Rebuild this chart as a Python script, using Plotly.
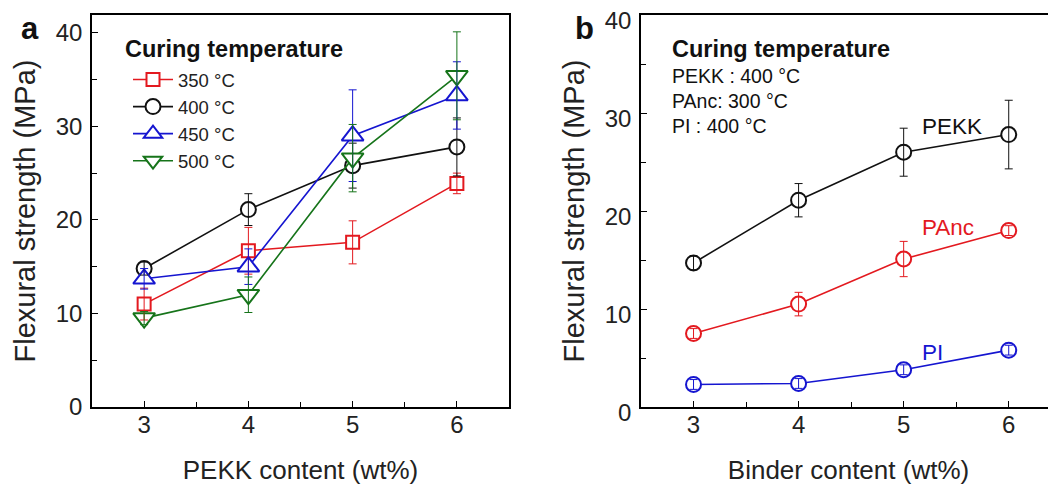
import plotly.graph_objects as go

# page body has an 8px margin: build the figure 8px smaller and map
# reference pixel positions into figure fractions
OX, OY = 8, 8
FW, FH = 1048, 478


def px(X):
    return (X - OX) / FW


def py(Y):
    return 1 - (Y - OY) / FH


# ---------------- data ----------------
x_content = [3, 4, 5, 6]

# panel a : curing temperature series (PEKK content)
temp_labels = ["350 °C", "400 °C", "450 °C", "500 °C"]
a_350 = [11.0, 16.7, 17.6, 23.9]
a_350_err = [1.7, 2.5, 2.3, 1.1]
a_400 = [14.8, 21.1, 25.8, 27.8]
a_400_err = [0.7, 1.7, 2.4, 3.1]
a_450 = [13.7, 15.0, 29.0, 33.3]
a_450_err = [1.1, 1.9, 4.9, 3.6]
a_500 = [9.5, 12.0, 26.6, 35.4]
a_500_err = [0.7, 1.9, 3.6, 4.7]

# panel b : binder series
binder_labels = ["PEKK", "PAnc", "PI"]
b_pekk = [14.7, 21.1, 26.0, 27.8]
b_pekk_err = [0.7, 1.7, 2.45, 3.5]
b_panc = [7.5, 10.5, 15.1, 18.0]
b_panc_err = [0.5, 1.2, 1.8, 0.5]
b_pi = [2.3, 2.4, 3.8, 5.8]
b_pi_err = [0.5, 0.5, 0.5, 0.5]

y_ticks = [0, 10, 20, 30, 40]
x_ticks = [3, 4, 5, 6]

# ---------------- styles ----------------
RED = "#e3191f"
BLACK = "#111111"
BLUE = "#1515d0"
GREEN = "#16741a"
FONT = "Liberation Sans, Arial, sans-serif"

fig = go.Figure()

series_a = [
    (temp_labels[0], a_350, a_350_err, RED, "square", 13),
    (temp_labels[1], a_400, a_400_err, BLACK, "circle", 15),
    (temp_labels[2], a_450, a_450_err, BLUE, "triangle-up", 19),
    (temp_labels[3], a_500, a_500_err, GREEN, "triangle-down", 19),
]
for name, ys, es, col, sym, sz in series_a:
    fig.add_trace(go.Scatter(
        x=x_content, y=ys, name=name, mode="lines+markers",
        line=dict(color=col, width=1.6),
        marker=dict(symbol=sym, size=sz, color="white",
                    line=dict(color=col, width=2)),
        xaxis="x", yaxis="y", showlegend=True,
    ))
for name, ys, es, col, sym, sz in series_a:
    fig.add_trace(go.Scatter(
        x=x_content, y=ys, mode="markers",
        marker=dict(size=0.1, color="rgba(0,0,0,0)"),
        error_y=dict(type="data", array=es, visible=True, color=col,
                     thickness=1, width=4),
        xaxis="x", yaxis="y", showlegend=False, hoverinfo="skip",
    ))

series_b = [
    (binder_labels[0], b_pekk, b_pekk_err, BLACK),
    (binder_labels[1], b_panc, b_panc_err, RED),
    (binder_labels[2], b_pi, b_pi_err, BLUE),
]
for name, ys, es, col in series_b:
    fig.add_trace(go.Scatter(
        x=x_content, y=ys, name=name, mode="lines+markers",
        line=dict(color=col, width=1.6),
        marker=dict(symbol="circle", size=15, color="white",
                    line=dict(color=col, width=2)),
        xaxis="x2", yaxis="y2", showlegend=False,
    ))
for name, ys, es, col in series_b:
    fig.add_trace(go.Scatter(
        x=x_content, y=ys, mode="markers",
        marker=dict(size=0.1, color="rgba(0,0,0,0)"),
        error_y=dict(type="data", array=es, visible=True, color=col,
                     thickness=1, width=4),
        xaxis="x2", yaxis="y2", showlegend=False, hoverinfo="skip",
    ))

ydom = [py(407), py(15)]
axis_common = dict(
    showline=True, linecolor="black", linewidth=1.6, mirror=True,
    ticks="inside", ticklen=6, tickwidth=1.4, tickcolor="black",
    showgrid=False, zeroline=False, automargin=False,
    ticklabeloverflow="allow",
    tickfont=dict(family=FONT, size=24, color="#222"),
)
minor_x = dict(dtick=0.5, tick0=2.5, ticks="inside", ticklen=5,
               tickwidth=1.2, tickcolor="black", showgrid=False)
minor_y = dict(dtick=5, tick0=0, ticks="inside", ticklen=5,
               tickwidth=1.2, tickcolor="black", showgrid=False)
xtitle_font = dict(family=FONT, size=26, color="#222")
ytitle_font = dict(family=FONT, size=29, color="#222")

fig.update_layout(
    width=FW, height=FH,
    margin=dict(l=0, r=0, t=0, b=0, autoexpand=False),
    paper_bgcolor="white", plot_bgcolor="white",
    font=dict(family=FONT, color="#222"),
    xaxis=dict(axis_common, domain=[px(92), px(509)], range=[2.5, 6.5],
               tickvals=x_ticks, ticklabelstandoff=-5, minor=minor_x,
               title=dict(text="PEKK content (wt%)", standoff=24,
                          font=xtitle_font)),
    yaxis=dict(axis_common, domain=ydom, range=[0, 41.9],
               tickvals=y_ticks, ticklabelstandoff=3, minor=minor_y,
               title=dict(text="Flexural strength (MPa)", standoff=12,
                          font=ytitle_font)),
    xaxis2=dict(axis_common, domain=[px(641), 1.0], range=[2.5, 6.45],
                anchor="y2", tickvals=x_ticks, ticklabelstandoff=-5,
                minor=minor_x,
                title=dict(text="Binder content (wt%)", standoff=24,
                           font=xtitle_font)),
    yaxis2=dict(axis_common, domain=ydom, range=[0, 40], anchor="x2",
                mirror=False, tickvals=y_ticks, ticklabelstandoff=3,
                ticklabelshift=6, minor=minor_y,
                title=dict(text="Flexural strength (MPa)", standoff=12,
                           font=ytitle_font)),
    legend=dict(
        x=px(128), y=py(61), xanchor="left", yanchor="top",
        bgcolor="rgba(0,0,0,0)", borderwidth=0,
        font=dict(family=FONT, size=18.5, color="#222"),
        tracegroupgap=0, itemwidth=40,
    ),
    showlegend=True,
)

# panel letters
for t, X in (("<b>a</b>", 30), ("<b>b</b>", 584)):
    fig.add_annotation(text=t, x=px(X), y=py(28), xref="paper",
                       yref="paper", showarrow=False, xanchor="center",
                       yanchor="middle",
                       font=dict(family=FONT, size=31, color="#111"))

# legend heading of panel a
fig.add_annotation(text="<b>Curing temperature</b>", x=px(123), y=py(49),
                   xref="paper", yref="paper", showarrow=False,
                   xanchor="left", yanchor="middle",
                   font=dict(family=FONT, size=23.5, color="#111"))

# information block of panel b
info_lines = ["<b>Curing temperature</b>", "PEKK : 400 °C", "PAnc: 300 °C",
              "PI : 400 °C"]
info_y = [49, 76, 101, 126]
info_size = [23.5, 19.5, 19.5, 19.5]
for t, yy, s in zip(info_lines, info_y, info_size):
    fig.add_annotation(text=t, x=px(670), y=py(yy), xref="paper",
                       yref="paper", showarrow=False, xanchor="left",
                       yanchor="middle",
                       font=dict(family=FONT, size=s, color="#111"))

# series labels of panel b
label_pos = [(28.6, BLACK), (18.3, RED), (5.6, BLUE)]
for name, (yy, col) in zip(binder_labels, label_pos):
    fig.add_annotation(text=name, x=5.16, y=yy, xref="x2", yref="y2",
                       showarrow=False, xanchor="left", yanchor="middle",
                       font=dict(family=FONT, size=22.5, color=col))

fig.write_html("out.html")
